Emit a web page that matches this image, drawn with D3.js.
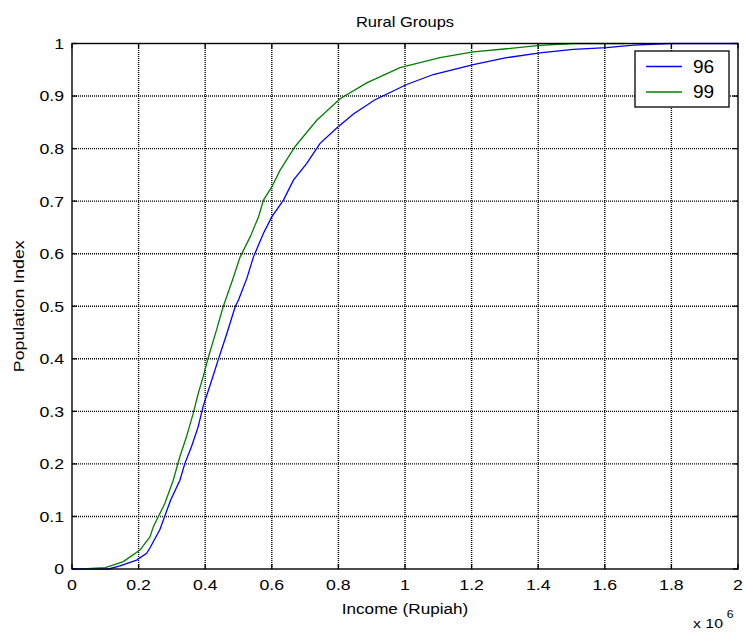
<!DOCTYPE html>
<html>
<head>
<meta charset="utf-8">
<script src="https://cdn.jsdelivr.net/npm/d3@7"></script>
<style>
  html, body { margin: 0; padding: 0; background: #fff; }
  svg { display: block; font-family: "Liberation Sans", Arial, Helvetica, sans-serif; }
</style>
</head>
<body>
<svg id="chart" width="744" height="635"></svg>
<script>
// Empirical income distributions for rural households (income in millions of Rupiah)
const income96 = [0.00, 0.11, 0.144, 0.194, 0.224, 0.234, 0.264, 0.296, 0.324, 0.339, 0.359, 0.379, 0.394, 0.420, 0.439, 0.465, 0.490, 0.500, 0.525, 0.545, 0.575, 0.600, 0.635, 0.665, 0.705, 0.745, 0.795, 0.845, 0.910, 1.005, 1.085, 1.205, 1.305, 1.405, 1.505, 1.605, 1.686, 1.796, 2.00];
const index96  = [0.000, 0.000, 0.006, 0.017, 0.030, 0.040, 0.075, 0.131, 0.169, 0.201, 0.233, 0.271, 0.310, 0.360, 0.398, 0.448, 0.499, 0.512, 0.553, 0.594, 0.639, 0.670, 0.702, 0.740, 0.772, 0.810, 0.839, 0.866, 0.893, 0.922, 0.941, 0.960, 0.973, 0.982, 0.989, 0.992, 0.997, 1.000, 1.000];

const income99 = [0.03, 0.100, 0.154, 0.204, 0.234, 0.244, 0.279, 0.304, 0.324, 0.344, 0.364, 0.379, 0.394, 0.410, 0.434, 0.454, 0.482, 0.505, 0.535, 0.560, 0.575, 0.600, 0.625, 0.670, 0.735, 0.805, 0.885, 0.985, 1.105, 1.205, 1.305, 1.405, 1.505, 1.66];
const index99  = [0.000, 0.0025, 0.014, 0.036, 0.061, 0.080, 0.125, 0.169, 0.214, 0.252, 0.296, 0.334, 0.366, 0.404, 0.455, 0.499, 0.550, 0.594, 0.632, 0.670, 0.702, 0.727, 0.759, 0.804, 0.854, 0.895, 0.925, 0.954, 0.973, 0.984, 0.990, 0.9966, 1.000, 1.000];

const xTicks = [0, 0.2, 0.4, 0.6, 0.8, 1, 1.2, 1.4, 1.6, 1.8, 2];
const yTicks = [0, 0.1, 0.2, 0.3, 0.4, 0.5, 0.6, 0.7, 0.8, 0.9, 1];
const seriesNames = ["96", "99"];
const seriesColors = ["#0000ff", "#008000"];

const svg = d3.select("#chart");
const margin = { left: 72, right: 6, top: 43.5, bottom: 66 };
const W = 744, H = 635;
const x0 = margin.left, x1 = W - margin.right;
const y0 = H - margin.bottom, y1 = margin.top;

const x = d3.scaleLinear().domain([0, 2]).range([x0, x1]);
const y = d3.scaleLinear().domain([0, 1]).range([y0, y1]);

// text with a slightly widened face, stretched along its own baseline
function label(parent, tx, ty, str, opt = {}) {
  const sx = opt.sx ?? 1.18;
  const rot = opt.rotate ? ` rotate(${opt.rotate})` : "";
  return parent.append("text")
    .attr("transform", `translate(${tx},${ty})${rot} scale(${sx},1)`)
    .attr("text-anchor", opt.anchor || "start")
    .attr("dy", opt.dy || null)
    .attr("font-size", opt.size || 15)
    .attr("fill", "#000")
    .text(str);
}

// dotted grid
const grid = svg.append("g").attr("stroke", "#000").attr("stroke-width", 1.4)
  .attr("stroke-dasharray", "1,1");
grid.selectAll("line.vx").data(xTicks.slice(1, -1)).join("line")
  .attr("x1", d => x(d)).attr("x2", d => x(d)).attr("y1", y0).attr("y2", y1);
grid.selectAll("line.hy").data(yTicks.slice(1, -1)).join("line")
  .attr("y1", d => y(d)).attr("y2", d => y(d)).attr("x1", x0).attr("x2", x1);

// inward tick marks on all four sides
const tickLen = 5;
const tk = svg.append("g").attr("stroke", "#000").attr("stroke-width", 1.3);
xTicks.forEach(d => {
  tk.append("line").attr("x1", x(d)).attr("x2", x(d)).attr("y1", y0).attr("y2", y0 - tickLen);
  tk.append("line").attr("x1", x(d)).attr("x2", x(d)).attr("y1", y1).attr("y2", y1 + tickLen);
});
yTicks.forEach(d => {
  tk.append("line").attr("y1", y(d)).attr("y2", y(d)).attr("x1", x0).attr("x2", x0 + tickLen);
  tk.append("line").attr("y1", y(d)).attr("y2", y(d)).attr("x1", x1).attr("x2", x1 - tickLen);
});

// curves
svg.append("clipPath").attr("id", "plotclip").append("rect")
  .attr("x", x0).attr("y", y1 - 1).attr("width", x1 - x0).attr("height", y0 - y1 + 2);
const line = d3.line().x(d => x(d[0])).y(d => y(d[1]));
const data96 = income96.map((v, i) => [v, index96[i]]);
const data99 = income99.map((v, i) => [v, index99[i]]);
[data96, data99].forEach((data, i) => {
  svg.append("path").datum(data).attr("clip-path", "url(#plotclip)")
    .attr("fill", "none").attr("stroke", seriesColors[i]).attr("stroke-width", 1.3)
    .attr("d", line);
});

// box
svg.append("rect").attr("x", x0).attr("y", y1).attr("width", x1 - x0).attr("height", y0 - y1)
  .attr("fill", "none").attr("stroke", "#000").attr("stroke-width", 1.4);

// tick labels
const fmt = d => String(+d.toFixed(1));
const xl = svg.append("g");
xTicks.forEach(d => label(xl, x(d), y0 + 21, fmt(d), { anchor: "middle" }));
const yl = svg.append("g");
yTicks.forEach(d => label(yl, x0 - 8, y(d), fmt(d), { anchor: "end", dy: "0.36em" }));

// titles
label(svg, (x0 + x1) / 2, 27, "Rural Groups", { anchor: "middle", size: 14 });
label(svg, (x0 + x1) / 2, 614, "Income (Rupiah)", { anchor: "middle", size: 14.5 });
label(svg, 24, (y0 + y1) / 2, "Population Index", { anchor: "middle", size: 15, rotate: -90 });
const exp = label(svg, 693, 628, "", { size: 13, sx: 1.22 });
exp.append("tspan").text("x 10");
exp.append("tspan").attr("dx", 3).attr("dy", -10).attr("font-size", 10).text("6");

// legend
const lg = svg.append("g");
lg.append("rect").attr("x", 635).attr("y", 51).attr("width", 94).attr("height", 56)
  .attr("fill", "#fff").attr("stroke", "#000").attr("stroke-width", 1.3);
seriesNames.forEach((name, i) => {
  const ly = 66.5 + i * 25.5;
  lg.append("line").attr("x1", 646).attr("x2", 682).attr("y1", ly).attr("y2", ly)
    .attr("stroke", seriesColors[i]).attr("stroke-width", 1.3);
  label(lg, 693, ly, name, { size: 18, sx: 1.06, dy: "0.36em" });
});
</script>
</body>
</html>
